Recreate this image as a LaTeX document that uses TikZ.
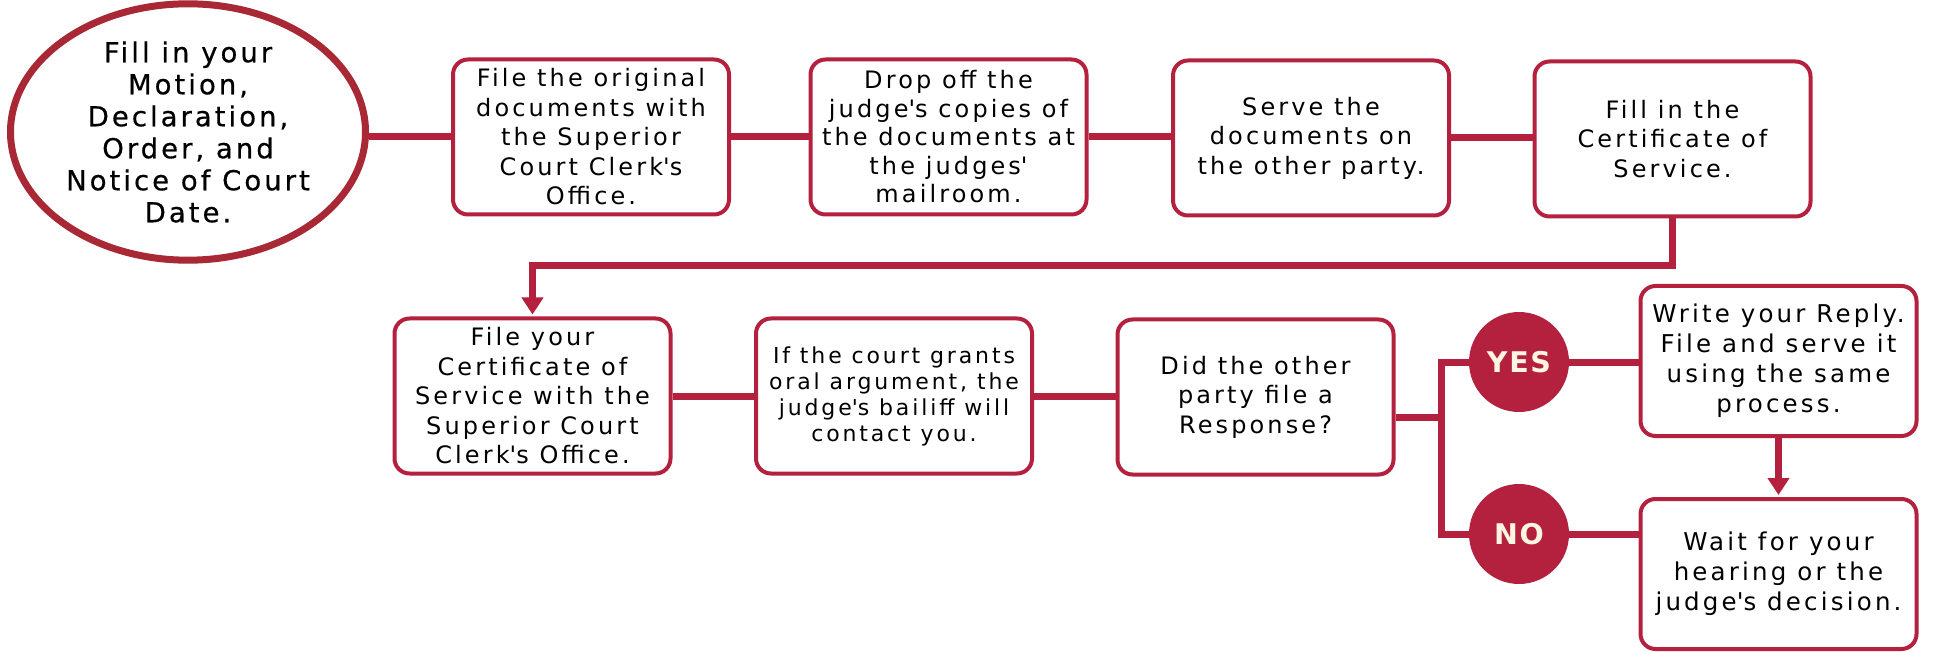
\documentclass[tikz,border=0pt]{standalone}
\usepackage{fontspec}
\setmainfont{DejaVu Sans}[LetterSpace=13]
\newfontfamily\ellfont{DejaVu Sans}[LetterSpace=11, FakeBold=0.5]
\newfontfamily\ansfont{DejaVu Sans}[LetterSpace=6]
\usetikzlibrary{arrows.meta,shapes.geometric}
\definecolor{crim}{RGB}{180,33,63}
\definecolor{crimd}{RGB}{168,40,54}
\definecolor{cream}{RGB}{255,246,226}
\newcommand{\ap}{\textquotesingle}
\begin{document}
\begin{tikzpicture}[x=1pt,y=-1pt,
  stepbox/.style={draw=crim, line width=4pt, rounded corners=15pt, fill=white,
    minimum width=276pt, minimum height=155pt, align=center, inner sep=0pt,
    font=\fontsize{24}{29.5}\selectfont},
  conn/.style={draw=crim, line width=7pt},
  ans/.style={circle, fill=crim, minimum size=100pt, inner sep=0pt, text=cream,
    font=\ansfont\fontsize{28.5}{30}\selectfont\bfseries},
  arr/.style={conn, -{Triangle[width=21pt,length=17pt]}, shorten >=2pt}
]
\useasboundingbox (0,0) rectangle (1933,652);

\node[ellipse, draw=crimd, line width=7pt, fill=white, minimum width=355pt,
  minimum height=247pt, inner sep=0pt, align=center,
  font=\ellfont\fontsize{27.5}{32}\selectfont] (start) at (188,132)
  {Fill in your\\Motion,\\Declaration,\\Order, and\\Notice of Court\\Date.};

\node[stepbox] (b1) at (591,137) {File the original\\documents with\\the Superior\\Court Clerk\ap s\\Office.};
\node[stepbox, font=\fontsize{24}{28.5}\selectfont] (b2) at (948.5,137) {Drop off the\\judge\ap s copies of\\the documents at\\the judges\ap\\mailroom.};
\node[stepbox] (b3) at (1311,138) {Serve the\\documents on\\the other party.};
\node[stepbox] (b4) at (1672.5,139) {Fill in the\\Certificate of\\Service.};

\node[stepbox] (c1) at (532.5,396) {File your\\Certificate of\\Service with the\\Superior Court\\Clerk\ap s Office.};
\node[stepbox, font=\fontsize{22}{26}\selectfont] (c2) at (894,396) {If the court grants\\oral argument, the\\judge\ap s bailiff will\\contact you.};
\node[stepbox] (c3) at (1255.5,397) {Did the other\\party file a\\Response?};

\node[ans] (yes) at (1519,362) {YES};
\node[ans] (no) at (1519,534) {NO};

\node[stepbox, minimum height=150pt, font=\fontsize{24.5}{30}\selectfont] (w1) at (1778.5,361) {Write your Reply.\\File and serve it\\using the same\\process.};
\node[stepbox, minimum height=150pt, font=\fontsize{24.5}{30}\selectfont] (w2) at (1778.5,574) {Wait for your\\hearing or the\\judge\ap s decision.};

\coordinate (br) at (1441,417);

\draw[conn] (start.east |- b1.west) -- (b1.west);
\draw[conn] (b1.east) -- (b2.west |- b1.east);
\draw[conn] (b2.east) -- (b3.west |- b2.east);
\draw[conn] (b3.east) -- (b4.west |- b3.east);
\draw[arr] (b4.south) -- ++(0,47) -| (c1.north);
\draw[conn] (c1.east) -- (c2.west |- c1.east);
\draw[conn] (c2.east) -- (c3.west |- c2.east);
\draw[conn] (c3.east |- br) -- (br);
\draw[conn] (yes.west) -| (br) |- (no.west);
\draw[conn] (yes.east) -- (w1.west |- yes.east);
\draw[conn] (no.east) -- (w2.west |- no.east);
\draw[arr] (w1.south) -- (w2.north);
\end{tikzpicture}
\end{document}
